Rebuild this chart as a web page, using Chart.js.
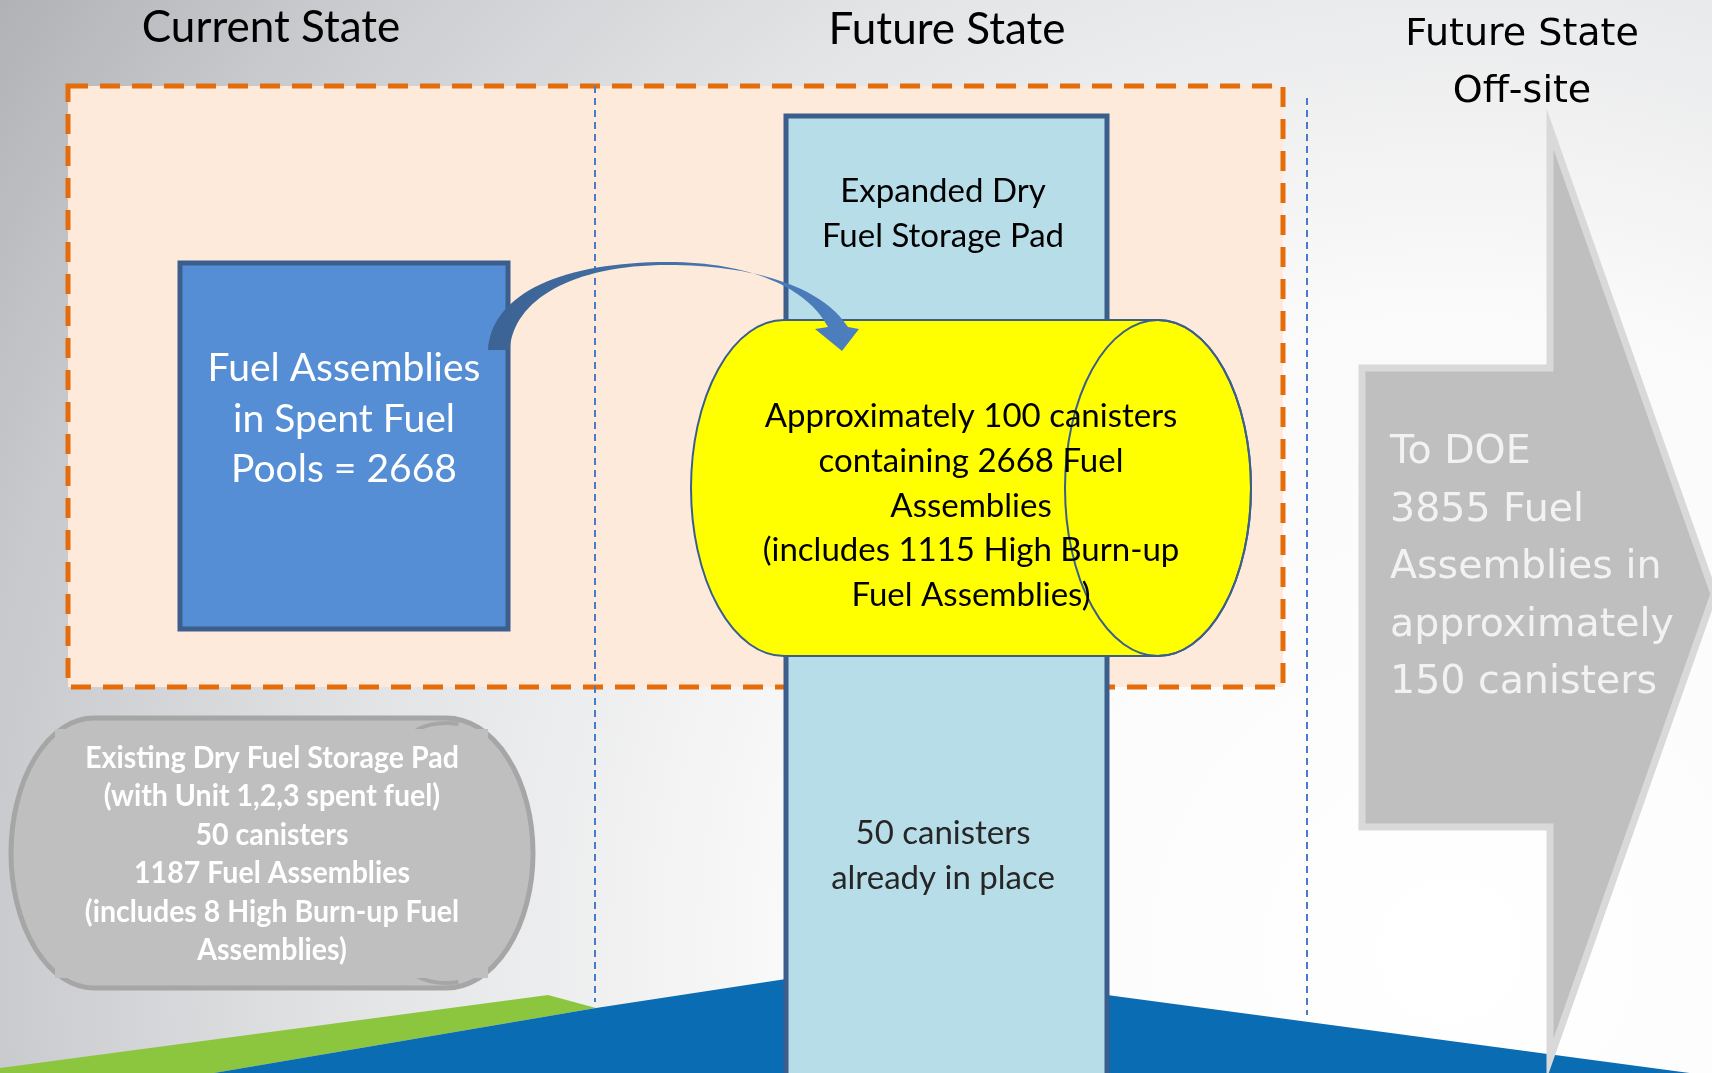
<!DOCTYPE html>
<html>
<head>
<meta charset="utf-8">
<script src="https://cdn.jsdelivr.net/npm/chart.js@4.4.1/dist/chart.umd.min.js"></script>
<style>
  html, body { margin: 0; padding: 0; background: #fff; overflow: hidden; }
  #wrap { width: 1712px; height: 1073px; }
</style>
</head>
<body>
<div id="wrap"><canvas id="diagram" width="1712" height="1073"></canvas></div>
<script>
// --- values shown on the slide ---
const stageTitles = ['Current State', 'Future State', 'Future State', 'Off-site']
const assemblies = [2668, 1187, 3855]      // in pools, on existing pad, total to DOE
const canisters = [50, 100, 150]           // existing, new, total
const highBurnup = [8, 1115]               // existing pad, new canisters

// --- layout in slide pixel units (mapped through the chart scales) ---
const W = 1712, H = 1073
const font = 'Lato, "Open Sans", sans-serif'
const wide = '"DejaVu Sans", Verdana, sans-serif'

const diagramPlugin = {
  id: 'diagram',
  beforeDatasetsDraw(chart) {
    const ctx = chart.ctx
    const sx = chart.scales.x, sy = chart.scales.y
    const X = v => sx.getPixelForValue(v)
    const Y = v => sy.getPixelForValue(v)

    function poly(pts, fill, stroke, lw) {
      ctx.beginPath()
      pts.forEach((p, i) => i ? ctx.lineTo(X(p[0]), Y(p[1])) : ctx.moveTo(X(p[0]), Y(p[1])))
      ctx.closePath()
      if (fill) { ctx.fillStyle = fill; ctx.fill() }
      if (stroke) { ctx.strokeStyle = stroke; ctx.lineWidth = lw; ctx.stroke() }
    }
    function rect(x0, y0, x1, y1, fill, stroke, lw) {
      poly([[x0, y0], [x1, y0], [x1, y1], [x0, y1]], fill, stroke, lw)
    }
    function txt(s, x, y, f, color, align, squeeze) {
      ctx.font = f
      ctx.fillStyle = color
      ctx.textAlign = align || 'center'
      ctx.textBaseline = 'alphabetic'
      const w = ctx.measureText(s).width
      ctx.fillText(s, X(x), Y(y), w * (squeeze || 1))
    }
    function vdash(x, y0, y1) {
      ctx.save()
      ctx.setLineDash([7, 5])
      ctx.strokeStyle = '#4a7bc8'
      ctx.lineWidth = 2
      ctx.beginPath(); ctx.moveTo(X(x), Y(y0)); ctx.lineTo(X(x), Y(y1)); ctx.stroke()
      ctx.restore()
    }

    ctx.save()
    // background
    const bg = ctx.createRadialGradient(X(1450), Y(950), 0, X(1450), Y(950), 1850)
    bg.addColorStop(0, '#ffffff')
    bg.addColorStop(0.35, '#fafafa')
    bg.addColorStop(0.6, '#e2e3e5')
    bg.addColorStop(0.8, '#c8c9cc')
    bg.addColorStop(1, '#a5a7aa')
    ctx.fillStyle = bg
    ctx.fillRect(X(0), Y(0), X(W) - X(0), Y(H) - Y(0))

    // ground
    poly([[0, H], [0, 1068], [548, 995], [596, 1008], [214, H]], '#8cc63e')
    poly([[214, H], [596, 1008], [786, 979], [1107, 995], [W, 1076], [W, H]], '#0a6db3')

    // orange dashed zone
    rect(68, 86, 1283, 687, '#fdeadb')
    ctx.save()
    ctx.setLineDash([20, 12])
    rect(68, 86, 1283, 687, null, '#e46c0a', 5)
    ctx.restore()

    vdash(595, 86, 1002)
    vdash(1307, 98, 1015)

    // titles
    txt(stageTitles[0], 271, 42, '44px ' + font, '#000')
    txt(stageTitles[1], 947, 44, '44px ' + font, '#000')
    txt(stageTitles[2], 1522, 45, '38px ' + wide, '#000')
    txt(stageTitles[3], 1522, 102, '38px ' + wide, '#000')

    // spent fuel pool box
    rect(180, 263, 508, 629, '#558ed5', '#3b5e8c', 5)
    const poolLines = ['Fuel Assemblies', 'in Spent Fuel', 'Pools = ' + assemblies[0]]
    poolLines.forEach((s, i) => txt(s, 344, 381 + i * 50.5, '39px ' + font, '#fff'))

    // expanded pad column
    rect(786, 116, 1107, H + 10, '#b7dde8', '#3b5e8c', 5)
    txt('Expanded Dry', 943, 202, '33px ' + font, '#000')
    txt('Fuel Storage Pad', 943, 247, '33px ' + font, '#000')
    txt(canisters[0] + ' canisters', 943, 844, '33px ' + font, '#262626')
    txt('already in place', 943, 889, '33px ' + font, '#262626')

    // yellow canister cylinder
    const cl = 784, cr = 1158, ct = 320, cb = 656, rx = 93, ry = (cb - ct) / 2, cy = (ct + cb) / 2
    ctx.beginPath()
    ctx.moveTo(X(cl), Y(ct))
    ctx.lineTo(X(cr), Y(ct))
    ctx.ellipse(X(cr), Y(cy), rx, ry, 0, -Math.PI / 2, Math.PI / 2)
    ctx.lineTo(X(cl), Y(cb))
    ctx.ellipse(X(cl), Y(cy), rx, ry, 0, Math.PI / 2, Math.PI * 1.5)
    ctx.closePath()
    ctx.fillStyle = '#ffff00'
    ctx.fill()
    ctx.strokeStyle = '#3b5e8c'
    ctx.lineWidth = 2
    ctx.stroke()
    ctx.beginPath()
    ctx.ellipse(X(cr), Y(cy), rx, ry, 0, 0, Math.PI * 2)
    ctx.stroke()
    const canLines = [
      'Approximately ' + canisters[1] + ' canisters',
      'containing ' + assemblies[0] + ' Fuel',
      'Assemblies',
      '(includes ' + highBurnup[1] + ' High Burn-up',
      'Fuel Assemblies)'
    ]
    canLines.forEach((s, i) => txt(s, 971, 427 + i * 44.8, '33px ' + font, '#000'))

    // curved transfer arrow
    const ag = ctx.createLinearGradient(X(487), 0, X(860), 0)
    ag.addColorStop(0, '#3b6393')
    ag.addColorStop(1, '#4d7fbf')
    ctx.beginPath()
    ctx.moveTo(X(488), Y(350))
    ctx.bezierCurveTo(X(492), Y(292), X(565), Y(262), X(668), Y(262))
    ctx.bezierCurveTo(X(750), Y(262), X(808), Y(288), X(828), Y(327))
    ctx.lineTo(X(815), Y(329))
    ctx.lineTo(X(842), Y(351))
    ctx.lineTo(X(859), Y(329))
    ctx.lineTo(X(848), Y(327))
    ctx.bezierCurveTo(X(822), Y(286), X(752), Y(265), X(668), Y(265))
    ctx.bezierCurveTo(X(572), Y(265), X(513), Y(300), X(510), Y(350))
    ctx.closePath()
    ctx.fillStyle = ag
    ctx.fill()

    // existing pad (grey scroll shape)
    const gl = 94, gr = 446, gt = 718, gb = 988, grx = 83, gry = (gb - gt) / 2, gcy = (gt + gb) / 2
    ctx.beginPath()
    ctx.moveTo(X(gl), Y(gt))
    ctx.lineTo(X(gr), Y(gt))
    ctx.ellipse(X(gr), Y(gcy), grx + 4, gry, 0, -Math.PI / 2, Math.PI / 2)
    ctx.lineTo(X(gl), Y(gb))
    ctx.ellipse(X(gl), Y(gcy), grx, gry, 0, Math.PI / 2, Math.PI * 1.5)
    ctx.closePath()
    ctx.fillStyle = '#bfbfbf'
    ctx.fill()
    ctx.strokeStyle = '#a6a6a6'
    ctx.lineWidth = 5
    ctx.stroke()
    // scroll curls at the right corners
    ctx.lineWidth = 4
    ctx.beginPath()
    ctx.ellipse(X(446), Y(745), 40, 22, 0, Math.PI * 1.15, Math.PI * 1.6)
    ctx.stroke()
    ctx.beginPath()
    ctx.ellipse(X(446), Y(961), 40, 22, 0, Math.PI * 0.4, Math.PI * 0.85)
    ctx.stroke()
    rect(55, 729, 488, 978, '#bfbfbf')
    const padLines = [
      'Existing Dry Fuel Storage Pad',
      '(with Unit 1,2,3 spent fuel)',
      canisters[0] + ' canisters',
      assemblies[1] + ' Fuel Assemblies',
      '(includes ' + highBurnup[0] + ' High Burn-up Fuel',
      'Assemblies)'
    ]
    padLines.forEach((s, i) => txt(s, 272, 768 + i * 38.4, 'bold 31px ' + font, '#fff', 'center', 0.92))

    // off-site arrow
    poly([[1362, 368], [1550, 368], [1550, 129], [W + 2, 594], [1550, 1059], [1550, 827], [1362, 827]],
      '#bfbfbf', '#d9d9d9', 7)
    const doeLines = [
      'To DOE',
      assemblies[2] + ' Fuel',
      'Assemblies in',
      'approximately',
      canisters[2] + ' canisters'
    ]
    doeLines.forEach((s, i) => txt(s, 1390, 463 + i * 57.6, '39.5px ' + wide, '#f2f2f2', 'left'))
    ctx.restore()
  }
}

new Chart(document.getElementById('diagram'), {
  type: 'scatter',
  data: { datasets: [{ data: [], pointRadius: 0 }] },
  options: {
    responsive: false,
    animation: false,
    layout: { padding: 0 },
    plugins: { legend: { display: false }, tooltip: { enabled: false } },
    scales: {
      x: { type: 'linear', min: 0, max: W, display: false },
      y: { type: 'linear', min: 0, max: H, reverse: true, display: false }
    }
  },
  plugins: [diagramPlugin]
})
</script>
</body>
</html>
